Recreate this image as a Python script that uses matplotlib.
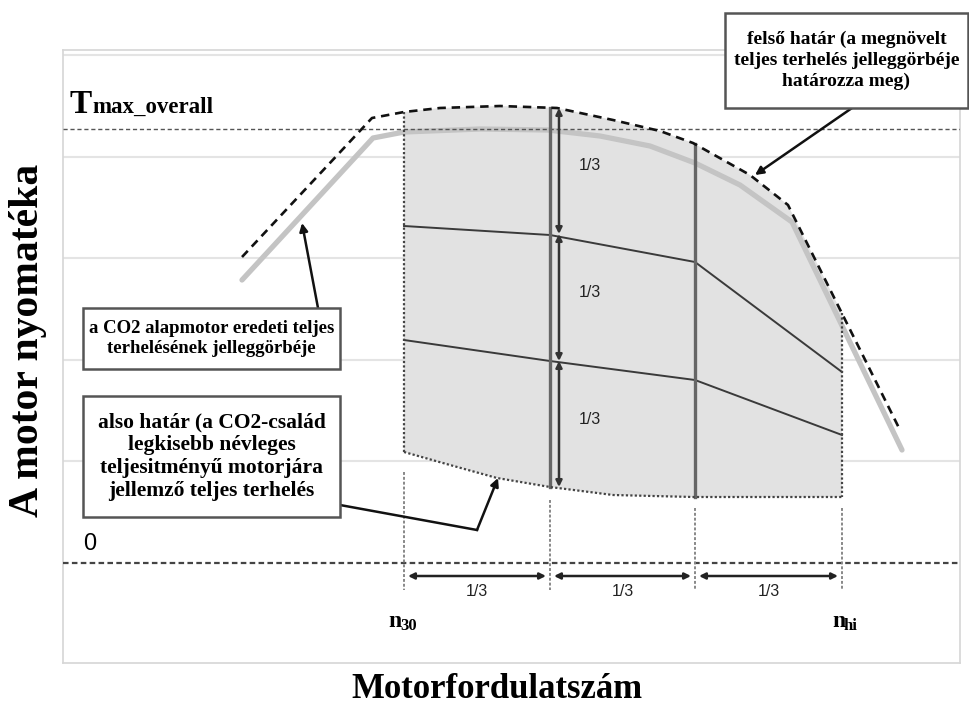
import numpy as np
import matplotlib
matplotlib.use("Agg")
import matplotlib.pyplot as plt
from matplotlib.patches import Rectangle, Polygon

# speed (x) and torque (y) in arbitrary chart units, 0 torque = the "0" line
upper_x = [179, 309, 341, 377, 437, 494, 550, 597, 630, 687, 725, 837]
upper_y = [306, 445, 451, 455, 457, 455, 443, 432, 420, 388, 358, 133]

base_x = [179, 310, 341, 417, 485, 537, 587, 632, 677, 729, 839]
base_y = [283, 425, 431, 434, 433, 427, 417, 400, 378, 341, 113]

lower_x = [341, 387, 434, 487, 550, 630, 779]
lower_y = [111, 98, 85, 76, 68, 66, 66]

mid_x = [341, 487, 632, 779]
mid_hi = [337, 328, 301, 191]
mid_lo = [223, 202, 183, 128]

n30, n_a, n_b, nhi = 341, 487, 632, 779
tmax = 434
grid_levels = [102, 203, 305, 406, 508]
vert_levels = [455, 329, 202, 76]   # 1/3 divisions on the vertical arrow
arrow_x = 496

SERIF = ['Liberation Serif', 'DejaVu Serif']
SANS = ['Liberation Sans', 'DejaVu Sans']

fig = plt.figure(figsize=(9.7, 7.11), dpi=100)
ax = fig.add_axes([63/970, 48/711, 897/970, 613/711])
ax.set_xlim(0, 897)
ax.set_ylim(-100, 513)
ax.set_xticks([])
ax.set_yticks([])
for s in ax.spines.values():
    s.set_color('#d6d6d6')
    s.set_linewidth(1.2)

for g in grid_levels:
    ax.axhline(g, color='#e4e4e4', lw=1.5, zorder=0)

# shaded band between upper and lower limits
xs = [x for x in upper_x if n30 < x < nhi]
top = [(n30, np.interp(n30, upper_x, upper_y))] + \
      [(x, np.interp(x, upper_x, upper_y)) for x in xs] + \
      [(nhi, np.interp(nhi, upper_x, upper_y))]
bot = list(zip(lower_x, lower_y))[::-1]
ax.add_patch(Polygon(top + bot, closed=True, facecolor='#e2e2e2',
                     edgecolor='none', zorder=1))

# Tmax and zero lines
ax.axhline(tmax, color='#555555', lw=1.0, ls=(0, (3, 2)), zorder=3)
ax.axhline(0, color='#444444', lw=1.6, ls=(0, (2.5, 1.5)), zorder=3)

# base engine curve (gray) and upper limit (dashed)
ax.plot(base_x, base_y, color='#c4c4c4', lw=3.8, solid_capstyle='round', zorder=2)
ax.plot(upper_x, upper_y, color='#111111', lw=1.9, ls=(0, (3.2, 2.2)), zorder=4)

# lower limit and side borders, dotted
ax.plot(lower_x, lower_y, color='#444444', lw=1.6, ls=(0, (1, 1)), zorder=4)
ax.plot([n30, n30], [np.interp(n30, upper_x, upper_y), lower_y[0]],
        color='#444444', lw=1.6, ls=(0, (1, 1)), zorder=4)
ax.plot([nhi, nhi], [np.interp(nhi, upper_x, upper_y), lower_y[-1]],
        color='#444444', lw=1.6, ls=(0, (1, 1)), zorder=4)

# intermediate curves
ax.plot(mid_x, mid_hi, color='#3a3a3a', lw=1.4, zorder=3)
ax.plot(mid_x, mid_lo, color='#3a3a3a', lw=1.4, zorder=3)

# thick vertical dividers
ax.plot([n_a, n_a], [vert_levels[0], vert_levels[-1]], color='#666666', lw=2.4, zorder=3)
ax.plot([n_b, n_b], [np.interp(n_b, upper_x, upper_y), np.interp(n_b, lower_x, lower_y)],
        color='#666666', lw=2.4, zorder=3)

# vertical 1/3 arrows
for y0, y1 in zip(vert_levels[:-1], vert_levels[1:]):
    ax.annotate('', xy=(arrow_x, y1), xytext=(arrow_x, y0),
                arrowprops=dict(arrowstyle='<|-|>', color='#333333', lw=1.8,
                                mutation_scale=9, shrinkA=0, shrinkB=0), zorder=5)
    ax.text(arrow_x + 31, (y0 + y1) / 2 + 5, '1/3', family=SANS, fontsize=11.5,
            ha='center', va='center', color='#222222', zorder=6)

# dotted speed markers under the band
for xv, ytop in zip([n30, n_a, n_b, nhi], [91, 63, 55, 55]):
    ax.plot([xv, xv], [ytop, -27], color='#888888', lw=1.4, ls=(0, (1.5, 1)), zorder=3)

# horizontal 1/3 arrows
speeds = [n30, n_a, n_b, nhi]
for x0, x1 in zip(speeds[:-1], speeds[1:]):
    ax.annotate('', xy=(x1 - 4, -13), xytext=(x0 + 4, -13),
                arrowprops=dict(arrowstyle='<|-|>', color='#222222', lw=1.8,
                                mutation_scale=9, shrinkA=0, shrinkB=0), zorder=5)
    ax.text((x0 + x1) / 2, -29, '1/3', family=SANS, fontsize=11.5,
            ha='center', va='center', color='#222222')

# labels inside the chart
ax.text(7, 450, 'T', family=SERIF, fontweight='bold', fontsize=24, va='baseline')
ax.text(29, 450, 'max_overall', family=SERIF, fontweight='bold', fontsize=16.5, va='baseline')
ax.text(27, 19, '0', family=SANS, fontsize=17, ha='center', va='center')
ax.text(325, -64, 'n', family=SERIF, fontweight='bold', fontsize=17, va='baseline')
ax.text(337, -67, '30', family=SERIF, fontweight='bold', fontsize=12, va='baseline')
ax.text(769, -64, 'n', family=SERIF, fontweight='bold', fontsize=17, va='baseline')
ax.text(781, -67, 'hi', family=SERIF, fontweight='bold', fontsize=12, va='baseline')

# annotation boxes
def box(x0, x1, y0, y1, txt, size, ls):
    ax.add_patch(Rectangle((x0, y0), x1 - x0, y1 - y0, facecolor='white',
                           edgecolor='#555555', lw=1.8, clip_on=False, zorder=7))
    ax.text((x0 + x1) / 2, (y0 + y1) / 2, txt, family=SERIF, fontweight='bold',
            fontsize=size, ha='center', va='center', linespacing=ls,
            clip_on=False, zorder=8)

box(662, 905, 455, 550, 'felső határ (a megnövelt\nteljes terhelés jelleggörbéje\nhatározza meg)', 14, 1.3)
box(20, 277, 194, 255, 'a CO2 alapmotor eredeti teljes\nterhelésének jelleggörbéje', 13.5, 1.25)
box(20, 277, 46, 167, 'also határ (a CO2-család\nlegkisebb névleges\nteljesitményű motorjára\njellemző teljes terhelés', 15.5, 1.18)

arrow_kw = dict(arrowstyle='-|>', color='#111111', lw=1.8, mutation_scale=12,
                shrinkA=0, shrinkB=0)
ax.annotate('', xy=(692, 388), xytext=(789, 455), arrowprops=arrow_kw,
            annotation_clip=False, zorder=6)
ax.annotate('', xy=(239, 340), xytext=(255, 255), arrowprops=arrow_kw, zorder=6)
ax.plot([277, 414], [58, 33], color='#111111', lw=1.8, zorder=6)
ax.annotate('', xy=(435, 85), xytext=(414, 33), arrowprops=arrow_kw, zorder=6)

# axis titles
fig.text(28 / 970, 1 - 340 / 711, 'A motor nyomatéka', family=SERIF, fontweight='bold',
         fontsize=30, rotation=90, ha='center', va='center')
fig.text(497 / 970, 1 - 690 / 711, 'Motorfordulatszám', family=SERIF, fontweight='bold',
         fontsize=25, ha='center', va='center')

fig.savefig('out.png', dpi=100)
